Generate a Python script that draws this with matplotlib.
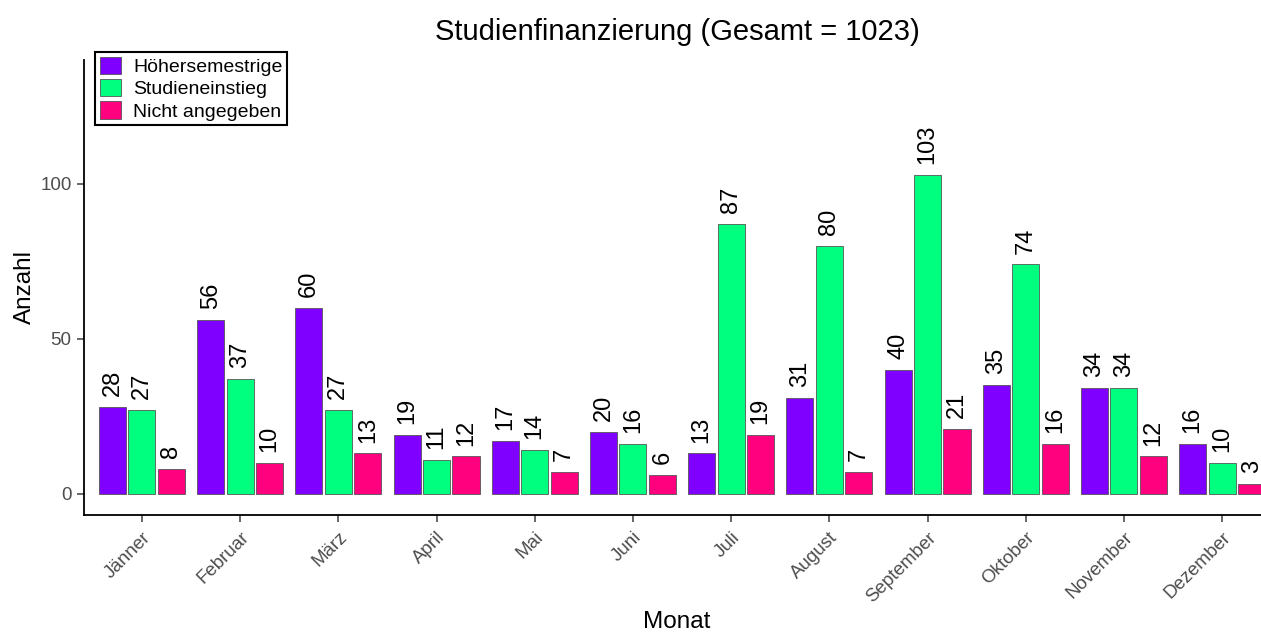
import numpy as np
import matplotlib.pyplot as plt

plt.rcParams['font.family'] = ['Liberation Sans', 'DejaVu Sans']

monate = ['Jänner', 'Februar', 'März', 'April', 'Mai', 'Juni', 'Juli',
          'August', 'September', 'Oktober', 'November', 'Dezember']
hoeher = [28, 56, 60, 19, 17, 20, 13, 31, 40, 35, 34, 16]
einstieg = [27, 37, 27, 11, 14, 16, 87, 80, 103, 74, 34, 10]
nicht = [8, 10, 13, 12, 7, 6, 19, 7, 21, 16, 12, 3]

gruppen = ['Höhersemestrige', 'Studieneinstieg', 'Nicht angegeben']
farben = ['#7F00FF', '#00FF7F', '#FF007F']

fig = plt.figure(figsize=(12.61, 6.32), dpi=100)
# x axis starts at 84px, 98.2px per month; right side runs off the image
ax = fig.add_axes([84 / 1261, 1 - 515 / 632, 12.2 * 98.2 / 1261, (515 - 60) / 632])

x = np.arange(len(monate))
for i, (werte, farbe, name) in enumerate(zip([hoeher, einstieg, nicht], farben, gruppen)):
    pos = x + (i - 1) * 0.3
    ax.bar(pos, werte, width=0.275, color=farbe, edgecolor='#555555',
           linewidth=0.6, label=name)
    for p, v in zip(pos, werte):
        ax.text(p, v + 3.5, str(v), rotation=90, ha='center', va='bottom', fontsize=17)

ax.set_xlim(-0.59, 11.61)
ax.set_ylim(-6.9, 140)
ax.set_yticks([0, 50, 100])
ax.set_xticks(x)
ax.set_xticklabels(monate, rotation=45, ha='right', rotation_mode='anchor')
ax.tick_params(colors='#4d4d4d', labelsize=13.5, length=5, width=1.2)
ax.tick_params(axis='x', pad=5)
ax.tick_params(axis='y', pad=4)
for s in ['top', 'right']:
    ax.spines[s].set_visible(False)
for s in ['left', 'bottom']:
    ax.spines[s].set_linewidth(1.3)

ax.set_xlabel('Monat', fontsize=17.5)
ax.set_ylabel('Anzahl', fontsize=17.5)
# place axis titles at the reference pixel positions
ax.xaxis.set_label_coords((677 - 84) / (12.2 * 98.2), -(622 - 515) / 455)
ax.xaxis.label.set_va('center')
ax.yaxis.set_label_coords(-(84 - 25) / (12.2 * 98.2), (515 - 287) / 455)
ax.yaxis.label.set_va('center')
fig.text(677 / 1261, 1 - 32 / 632, 'Studienfinanzierung (Gesamt = 1023)',
         ha='center', va='center', fontsize=21)

leg = ax.legend(loc='upper left', bbox_to_anchor=(11 / (12.2 * 98.2), 1.018), fontsize=14,
                frameon=True, fancybox=False, edgecolor='black',
                handlelength=1.1, handleheight=1.0, handletextpad=0.6,
                labelspacing=0.15, borderpad=0.25, borderaxespad=0)
leg.get_frame().set_linewidth(1.5)
leg.get_frame().set_alpha(1)

fig.savefig('out.png', dpi=100)
